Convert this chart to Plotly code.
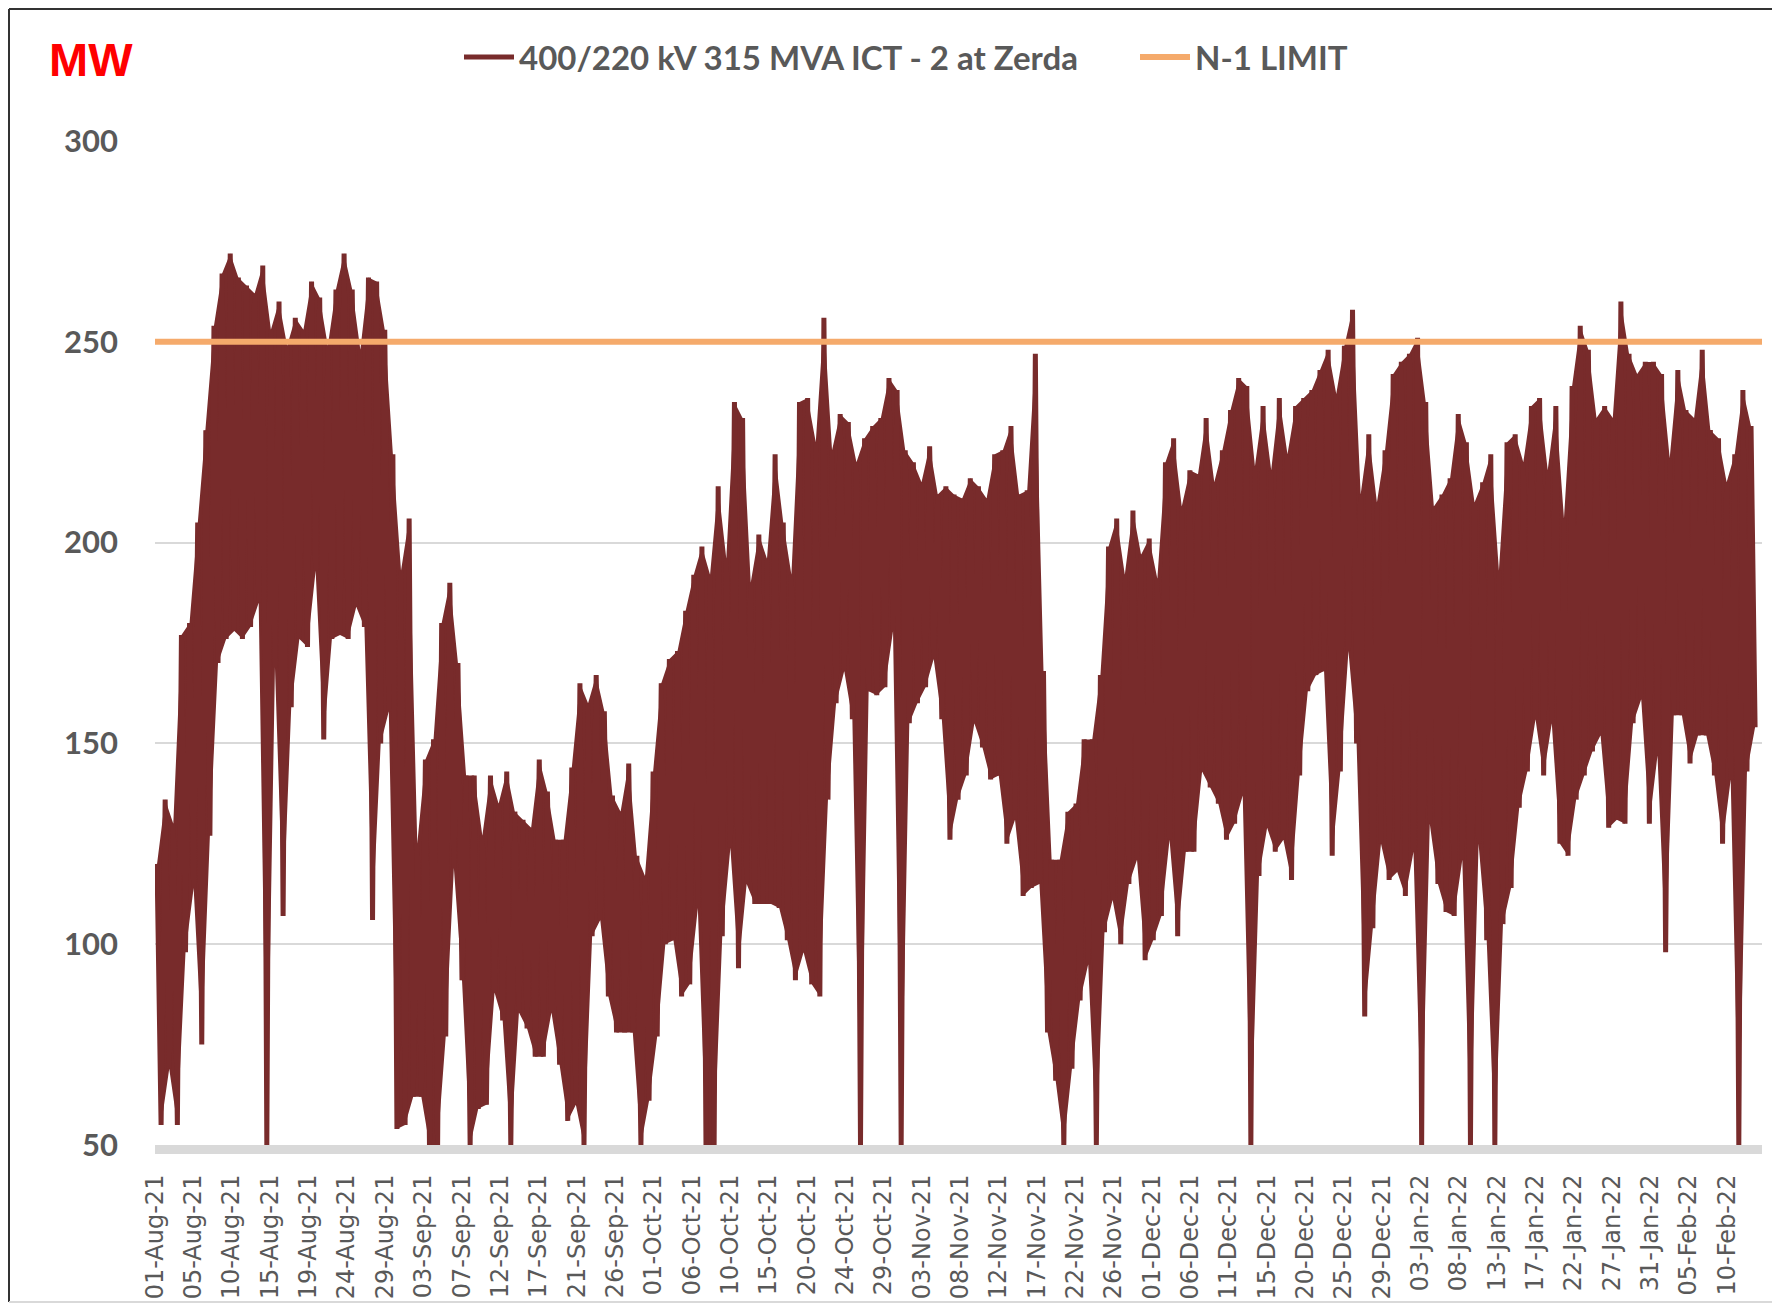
import datetime as dt
import plotly.graph_objects as go

# ---------------- data ----------------
start_date = dt.datetime(2021, 8, 1)

# daily maximum loading (MW), 01-Aug-21 ... 13-Feb-22
daily_max = [
    120, 136, 130, 177, 180, 205, 228, 254, 267, 272,
    266, 264, 262, 269, 253, 260, 249, 256, 253, 265,
    261, 249, 263, 272, 263, 248, 266, 265, 253, 222,
    193, 206, 125, 146, 151, 180, 190, 170, 142, 142,
    127, 142, 135, 143, 133, 131, 129, 146, 138, 126,
    126, 144, 165, 160, 167, 158, 137, 133, 145, 122,
    117, 143, 165, 171, 173, 183, 192, 199, 192, 214,
    196, 235, 231, 190, 202, 196, 222, 205, 192, 235,
    236, 225, 256, 223, 232, 230, 220, 226, 229, 231,
    241, 238, 223, 220, 215, 224, 212, 214, 212, 211,
    216, 214, 211, 222, 223, 229, 212, 213, 247, 168,
    121, 121, 133, 135, 151, 151, 167, 199, 206, 192,
    208, 197, 201, 191, 220, 226, 209, 218, 217, 231,
    215, 223, 233, 241, 239, 219, 234, 218, 236, 222,
    234, 236, 238, 243, 248, 237, 249, 258, 212, 227,
    210, 223, 242, 245, 247, 251, 235, 209, 212, 216,
    232, 225, 210, 215, 222, 193, 225, 227, 220, 234,
    236, 218, 234, 206, 239, 254, 248, 231, 234, 231,
    260, 247, 242, 245, 245, 242, 221, 243, 233, 231,
    248, 228, 226, 215, 222, 238, 229,
]

# daily minimum loading (MW)
daily_min = [
    55, 69, 55, 98, 114, 75, 127, 170, 176, 178,
    176, 179, 185, 50, 169, 107, 159, 176, 174, 193,
    151, 176, 177, 176, 184, 179, 106, 150, 158, 54,
    55, 62, 62, 50, 50, 77, 119, 91, 50, 59,
    60, 88, 81, 50, 83, 79, 72, 72, 83, 70,
    56, 60, 50, 102, 106, 87, 78, 78, 78, 50,
    61, 77, 100, 101, 87, 90, 109, 50, 50, 102,
    124, 94, 115, 110, 110, 110, 109, 101, 91, 98,
    90, 87, 136, 160, 168, 156, 50, 163, 162, 164,
    178, 50, 155, 160, 164, 171, 156, 126, 136, 142,
    155, 149, 141, 142, 125, 131, 112, 114, 115, 78,
    66, 50, 69, 86, 95, 50, 103, 111, 100, 115,
    121, 96, 101, 107, 126, 102, 123, 123, 143, 139,
    135, 126, 130, 137, 50, 117, 129, 123, 126, 116,
    142, 163, 167, 168, 122, 143, 173, 150, 82, 104,
    125, 116, 118, 112, 123, 50, 130, 115, 108, 107,
    121, 50, 125, 101, 50, 105, 114, 134, 143, 156,
    142, 155, 125, 122, 136, 142, 148, 152, 129, 131,
    130, 155, 161, 130, 147, 98, 157, 157, 145, 152,
    152, 142, 125, 141, 50, 143, 154,
]

n1_limit = 250

tick_labels = [
    "01-Aug-21", "05-Aug-21", "10-Aug-21", "15-Aug-21", "19-Aug-21", "24-Aug-21",
    "29-Aug-21", "03-Sep-21", "07-Sep-21", "12-Sep-21", "17-Sep-21", "21-Sep-21",
    "26-Sep-21", "01-Oct-21", "06-Oct-21", "10-Oct-21", "15-Oct-21", "20-Oct-21",
    "24-Oct-21", "29-Oct-21", "03-Nov-21", "08-Nov-21", "12-Nov-21", "17-Nov-21",
    "22-Nov-21", "26-Nov-21", "01-Dec-21", "06-Dec-21", "11-Dec-21", "15-Dec-21",
    "20-Dec-21", "25-Dec-21", "29-Dec-21", "03-Jan-22", "08-Jan-22", "13-Jan-22",
    "17-Jan-22", "22-Jan-22", "27-Jan-22", "31-Jan-22", "05-Feb-22", "10-Feb-22",
]

series_name = "400/220 kV 315 MVA ICT - 2 at Zerda"
limit_name = "N-1 LIMIT"

# ---------------- build series ----------------
x_hi = [start_date + dt.timedelta(days=i + 0.25) for i in range(len(daily_max))]
x_lo = [start_date + dt.timedelta(days=i + 0.75) for i in range(len(daily_min))]

xs, ys = [], []
for xh, hi, xl, lo in zip(x_hi, daily_max, x_lo, daily_min):
    xs += [xh, xl]
    ys += [hi, lo]

# band between the daily max and daily min readings
band_x = x_hi + x_lo[::-1]
band_y = daily_max + daily_min[::-1]

n_days = len(daily_max)
x_end = start_date + dt.timedelta(days=n_days + 0.6)
tick_step = dt.timedelta(days=33 / 7)
tickvals = [start_date + k * tick_step for k in range(len(tick_labels))]

# ---------------- layout helpers (pixels -> paper) ----------------
W, H = 1772, 1305
ML, MR, MT, MB = 155, 10, 141, 160
PW, PH = W - ML - MR, H - MT - MB


def px(xp):
    return (xp - ML) / PW


def py(yp):
    return 1 - (yp - MT) / PH


GRAY = "#595959"
BROWN = "#782B2B"
ORANGE = "#F5AA6B"
LEG_FONT = dict(family="Lato", size=33, color=GRAY, weight="bold")

fig = go.Figure()
fig.add_trace(go.Scatter(
    x=band_x, y=band_y, mode="lines", fill="toself", fillcolor=BROWN,
    line=dict(color=BROWN, width=0), showlegend=False, hoverinfo="skip",
))
fig.add_trace(go.Scatter(
    x=xs, y=ys, mode="lines", name=series_name, legend="legend",
    line=dict(color=BROWN, width=5),
))
fig.add_trace(go.Scatter(
    x=[start_date, x_end], y=[n1_limit, n1_limit], mode="lines", name=limit_name,
    legend="legend2",
    line=dict(color=ORANGE, width=6),
))

fig.update_layout(
    width=W, height=H,
    margin=dict(l=ML, r=MR, t=MT, b=MB, autoexpand=False),
    plot_bgcolor="white", paper_bgcolor="white",
    showlegend=True,
    legend=dict(
        orientation="h", x=px(459), xanchor="left", y=py(57), yanchor="middle",
        font=LEG_FONT, bgcolor="rgba(0,0,0,0)", itemwidth=50,
    ),
    legend2=dict(
        orientation="h", x=px(1135), xanchor="left", y=py(57), yanchor="middle",
        font=LEG_FONT, bgcolor="rgba(0,0,0,0)", itemwidth=50,
    ),
    xaxis=dict(
        type="date", range=[start_date, x_end],
        tickmode="array", tickvals=tickvals, ticktext=tick_labels,
        tickangle=-90, showgrid=False, zeroline=False,
        showline=True, linecolor="#D9D9D9", linewidth=9,
        tickfont=dict(family="DejaVu Sans", size=24, color=GRAY),
        ticks="", ticklabelstandoff=11,
    ),
    yaxis=dict(
        range=[50, 300], dtick=50, tick0=50,
        showgrid=True, gridcolor="#D9D9D9", gridwidth=2, zeroline=False,
        showline=False, ticks="",
        tickfont=dict(family="Lato", size=31, color=GRAY, weight="bold"),
        ticklabelstandoff=36,
    ),
    annotations=[dict(
        text="<b>MW</b>", xref="paper", yref="paper", x=px(47), y=py(59),
        xanchor="left", yanchor="middle", showarrow=False,
        font=dict(family="Liberation Sans", size=47, color="#FF0000"),
    )],
    shapes=[
        dict(type="line", xref="paper", yref="paper", x0=px(9), x1=px(9), y0=py(1302), y1=py(9),
             line=dict(color="#333333", width=2)),
        dict(type="line", xref="paper", yref="paper", x0=px(9), x1=px(1772), y0=py(9), y1=py(9),
             line=dict(color="#333333", width=2)),
        dict(type="line", xref="paper", yref="paper", x0=px(9), x1=px(1772), y0=py(1302), y1=py(1302),
             line=dict(color="#D9D9D9", width=2)),
    ],
)

fig.write_html(
    "out.html",
    config={"displayModeBar": False},
    post_script="document.body.style.margin='0';document.body.style.overflow='hidden';",
)
